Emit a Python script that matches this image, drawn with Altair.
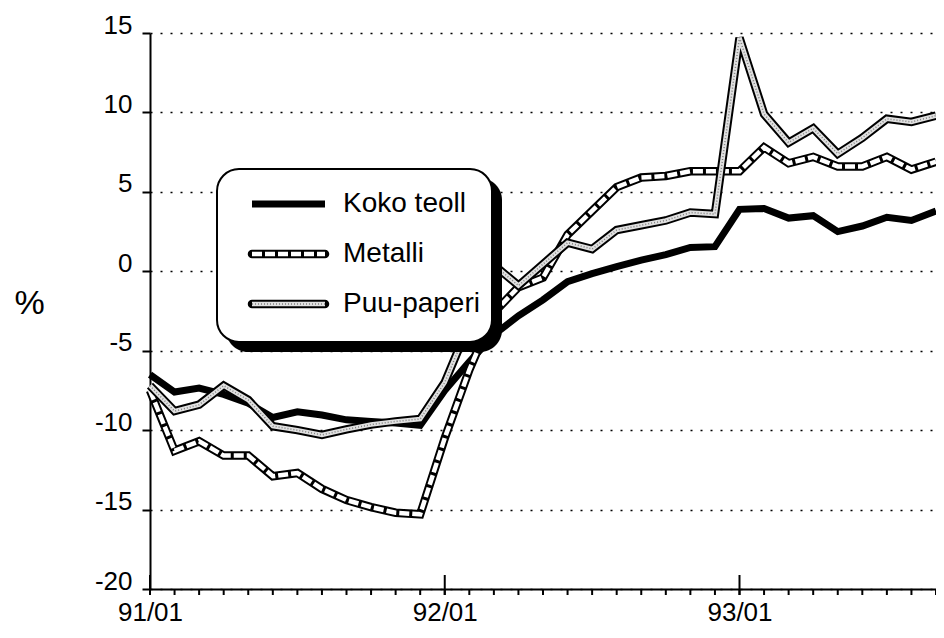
import altair as alt
import pandas as pd

# ---------------- data ----------------
months = ["91/01", "91/02", "91/03", "91/04", "91/05", "91/06", "91/07", "91/08",
          "91/09", "91/10", "91/11", "91/12",
          "92/01", "92/02", "92/03", "92/04", "92/05", "92/06", "92/07", "92/08",
          "92/09", "92/10", "92/11", "92/12",
          "93/01", "93/02", "93/03", "93/04", "93/05", "93/06", "93/07", "93/08", "93/09"]

koko_teoll = [-6.5, -7.6, -7.35, -7.75, -8.3, -9.2, -8.85, -9.05, -9.35, -9.45, -9.55, -9.7,
              -7.5, -5.7, -4.0, -2.8, -1.8, -0.65, -0.15, 0.3, 0.7, 1.05, 1.5, 1.55,
              3.9, 3.95, 3.35, 3.5, 2.5, 2.85, 3.4, 3.2, 3.8]

metalli = [-7.5, -11.3, -10.7, -11.6, -11.6, -12.9, -12.7, -13.7, -14.4, -14.85, -15.2, -15.3,
           -10.5, -6.2, -2.6, -1.0, -0.4, 2.3, 3.8, 5.3, 5.9, 6.0, 6.3, 6.3,
           6.3, 7.8, 6.8, 7.2, 6.6, 6.6, 7.2, 6.4, 6.9]

puu_paperi = [-7.2, -8.8, -8.4, -7.2, -8.1, -9.75, -10.0, -10.3, -9.95, -9.65, -9.45, -9.3,
              -7.0, -3.3, 0.4, -0.9, 0.45, 1.8, 1.4, 2.6, 2.9, 3.2, 3.7, 3.6,
              14.7, 9.9, 8.1, 9.0, 7.4, 8.4, 9.6, 9.4, 9.8]

series_names = ["Koko teoll", "Metalli", "Puu-paperi"]
y_ticks = [-20, -15, -10, -5, 0, 5, 10, 15]

rows = []
for name, vals in zip(series_names, [koko_teoll, metalli, puu_paperi]):
    for i, (m, v) in enumerate(zip(months, vals)):
        rows.append({"idx": i, "month": m, "series": name, "value": v})
df = pd.DataFrame(rows)

month_idx = list(range(len(months)))
year_idx = [i for i, m in enumerate(months) if m.endswith("/01")]
label_expr = "".join(
    f"datum.value == {i} ? '{months[i]}' : " for i in year_idx
) + "''"

# ---------------- layout ----------------
W, H = 786, 556
FONT = "Liberation Sans"

x_enc = alt.X(
    "idx:Q",
    scale=alt.Scale(domain=[0, len(months) - 1], nice=False, zero=False),
    axis=alt.Axis(
        values=month_idx, labelExpr=label_expr, title=None,
        grid=False, ticks=False, domainWidth=2,
        labelFontSize=26, labelPadding=10, labelFlush=False, labelOverlap=False,
    ),
)
y_enc = alt.Y(
    "value:Q",
    scale=alt.Scale(domain=[-20, 15], nice=False, zero=False),
    axis=alt.Axis(
        values=y_ticks, labelExpr="'' + datum.value",
        title="%", titleAngle=0, titleX=-121, titleY=270,
        titleAlign="center", titleBaseline="middle", titleFontSize=34,
        titleFontWeight="normal", labelFontSize=26, labelBaseline="alphabetic",
        labelPadding=10, tickSize=8, tickWidth=2, domainWidth=2,
        grid=True, gridColor="black", gridDash=[2, 8], gridWidth=1.6,
        gridOpacity=1, labelFlush=False,
    ),
)

base = alt.Chart(df).encode(x=x_enc, y=y_enc)


def series(name):
    return base.transform_filter(alt.datum.series == name)


koko_line = series("Koko teoll").mark_line(color="black", strokeWidth=7, strokeJoin="miter")
met_outer = series("Metalli").mark_line(color="black", strokeWidth=8.5, strokeJoin="miter")
met_inner = series("Metalli").mark_line(color="white", strokeWidth=4.5, strokeDash=[10, 3],
                                        strokeJoin="miter")
puu_outer = series("Puu-paperi").mark_line(color="black", strokeWidth=8.5, strokeJoin="miter")
puu_inner = series("Puu-paperi").mark_line(color="#e0e0e0", strokeWidth=4.5, strokeJoin="miter")
puu_dots = series("Puu-paperi").mark_line(color="#808080", strokeWidth=1.5, strokeDash=[1, 2],
                                          strokeJoin="miter")

# monthly ticks below the axis, longer year ticks crossing it
month_ticks = alt.Chart(pd.DataFrame({"idx": month_idx})).mark_rule(
    color="black", strokeWidth=2
).encode(x=alt.X("idx:Q"), y=alt.value(H), y2=alt.value(H + 6))
years = alt.Chart(pd.DataFrame({"idx": year_idx})).mark_rule(
    color="black", strokeWidth=2
).encode(x=alt.X("idx:Q"), y=alt.value(H - 14), y2=alt.value(H + 6))

one = pd.DataFrame({"k": [0]})
shadow = alt.Chart(one).mark_rect(color="black", cornerRadius=22).encode(
    x=alt.value(76), x2=alt.value(352), y=alt.value(145), y2=alt.value(319))
box = alt.Chart(one).mark_rect(fill="white", stroke="black", strokeWidth=2,
                               cornerRadius=22).encode(
    x=alt.value(67), x2=alt.value(342), y=alt.value(136), y2=alt.value(309))

row_y = [171, 221, 271]
sx1, sx2, tx = 102, 175, 193


def sym(y, **kw):
    return alt.Chart(one).mark_rule(**kw).encode(
        x=alt.value(sx1), x2=alt.value(sx2), y=alt.value(y))


leg_koko = sym(row_y[0], color="black", strokeWidth=7)
leg_met_o = sym(row_y[1], color="black", strokeWidth=8.5, strokeCap="round")
leg_met_i = sym(row_y[1], color="white", strokeWidth=4.5, strokeDash=[10, 3])
leg_puu_o = sym(row_y[2], color="black", strokeWidth=8.5, strokeCap="round")
leg_puu_i = sym(row_y[2], color="#e0e0e0", strokeWidth=4.5)
leg_puu_d = sym(row_y[2], color="#808080", strokeWidth=1.5, strokeDash=[1, 2])

texts = [
    alt.Chart(one).mark_text(align="left", baseline="middle", font=FONT, fontSize=28,
                             color="black").encode(
        x=alt.value(tx), y=alt.value(yy), text=alt.value(name))
    for name, yy in zip(series_names, row_y)
]

chart = alt.layer(
    koko_line, met_outer, met_inner, puu_outer, puu_inner, puu_dots, month_ticks, years,
    shadow, box, leg_koko, leg_met_o, leg_met_i, leg_puu_o, leg_puu_i, leg_puu_d,
    *texts,
).properties(
    width=W, height=H,
    autosize=alt.AutoSizeParams(type="none"),
    padding={"left": 142, "top": 25, "right": 0, "bottom": 41},
    background="white",
).configure_view(stroke=None).configure_axis(
    labelColor="black", tickColor="black", domainColor="black", titleColor="black",
    labelFont=FONT, titleFont=FONT,
)

chart.save("out.html", embed_options={"renderer": "svg", "actions": False})
